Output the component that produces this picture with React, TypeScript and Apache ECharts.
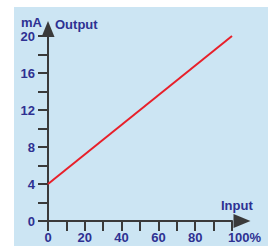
import React, { useEffect, useRef } from "react";
import * as echarts from "echarts";

const inputPct: number[] = [0, 100];
const outputMA: number[] = [4, 20];
const xTicks: number[] = [0, 20, 40, 60, 80, 100];
const yTicks: number[] = [0, 4, 8, 12, 16, 20];

const NAVY = "#2e3192";
const AXIS = "#3a3a3a";
const FONT = "Liberation Sans, Arial, sans-serif";

export default function App() {
  const ref = useRef<HTMLDivElement>(null);
  useEffect(() => {
    if (!ref.current) return;
    const chart = echarts.init(ref.current, undefined, { renderer: "svg" });
    chart.setOption({
      animation: false,
      graphic: [
        { type: "rect", left: 14, top: 7, z: -10, shape: { width: 254, height: 239 }, style: { fill: "#cce5f3" } },
        { type: "text", left: 21, top: 16, style: { text: "mA", font: `bold 13px ${FONT}`, fill: NAVY } },
        { type: "text", left: 55, top: 18, style: { text: "Output", font: `bold 13px ${FONT}`, fill: NAVY } },
        { type: "text", left: 221, top: 199, style: { text: "Input", font: `bold 13px ${FONT}`, fill: NAVY } },
      ],
      grid: { left: 48, right: 41, top: 36, bottom: 25, containLabel: false },
      xAxis: {
        type: "value",
        min: xTicks[0],
        max: xTicks[xTicks.length - 1],
        interval: 10,
        axisLine: {
          show: true,
          lineStyle: { color: AXIS, width: 2 },
          symbol: ["none", "triangle"],
          symbolSize: [14, 17],
          symbolOffset: [0, 10],
        },
        axisTick: { show: true, length: 10, lineStyle: { color: AXIS, width: 2 } },
        splitLine: { show: false },
        axisLabel: {
          margin: 10,
          color: NAVY,
          fontWeight: "bold",
          fontSize: 13,
          fontFamily: FONT,
          formatter: (v: number) =>
            xTicks.indexOf(v) < 0 ? "" : v === 100 ? "{p|100%}" : String(v),
          rich: { p: { padding: [0, 0, 0, 25], color: NAVY, fontWeight: "bold", fontSize: 13, fontFamily: FONT } },
        },
      },
      yAxis: {
        type: "value",
        min: yTicks[0],
        max: yTicks[yTicks.length - 1],
        interval: 2,
        axisLine: {
          show: true,
          lineStyle: { color: AXIS, width: 2 },
          symbol: ["none", "triangle"],
          symbolSize: [13, 16],
          symbolOffset: [0, 7],
        },
        axisTick: { show: true, length: 10, lineStyle: { color: AXIS, width: 2 } },
        splitLine: { show: false },
        axisLabel: {
          margin: 13,
          color: NAVY,
          fontWeight: "bold",
          fontSize: 13,
          fontFamily: FONT,
          formatter: (v: number) => (yTicks.indexOf(v) < 0 ? "" : String(v)),
        },
      },
      series: [
        {
          type: "line",
          data: inputPct.map((x, i) => [x, outputMA[i]]),
          showSymbol: false,
          lineStyle: { color: "#e8202a", width: 2 },
          z: 1,
        },
      ],
    });
    return () => chart.dispose();
  }, []);
  return (
    <div
      ref={ref}
      style={{ position: "absolute", left: 0, top: 0, width: 273, height: 246 }}
    />
  );
}
